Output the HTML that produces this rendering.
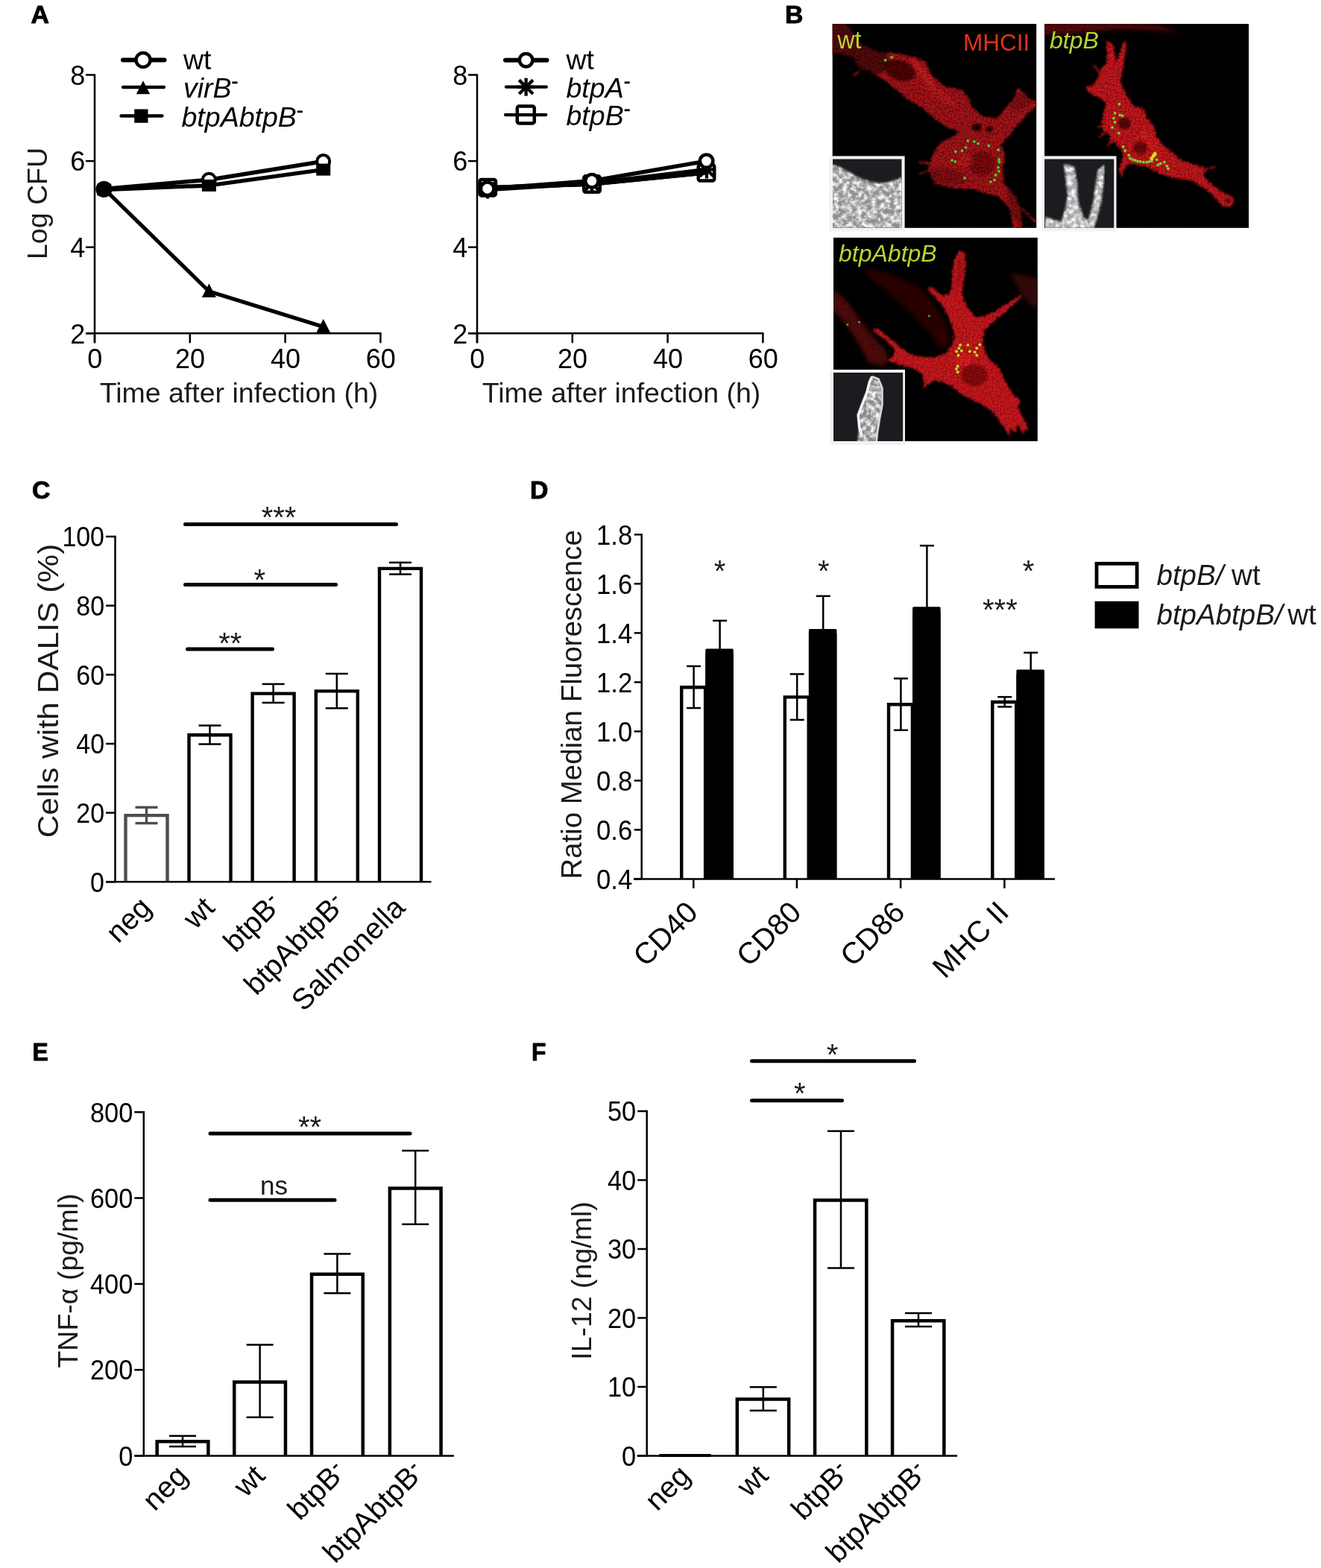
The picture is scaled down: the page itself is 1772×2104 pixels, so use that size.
<!DOCTYPE html>
<html lang="en">
<head>
<meta charset="utf-8">
<title>Figure</title>
<style>
html,body{margin:0;padding:0;background:#fff;}
body{width:1772px;height:2104px;overflow:hidden;position:relative;}
svg{display:block;position:absolute;left:0;top:0;}
svg text{font-family:"Liberation Sans", sans-serif;}
</style>
</head>
<body>
<svg width="1772" height="2104" viewBox="0 0 1772 2104">
<rect x="0" y="0" width="1772" height="2104" fill="#ffffff"/>
<defs>
<filter id="cellf" x="-10%" y="-10%" width="120%" height="120%" color-interpolation-filters="sRGB">
  <feTurbulence type="fractalNoise" baseFrequency="0.35" numOctaves="2" seed="7" result="n"/>
  <feDisplacementMap in="SourceGraphic" in2="n" scale="7" xChannelSelector="R" yChannelSelector="G" result="d"/>
  <feGaussianBlur in="d" stdDeviation="1.1" result="b"/>
  <feColorMatrix in="n" type="matrix" values="0 0 0 0 1  0 0 0 0 1  0 0 0 0 1  1.6 0 0 0 -0.05" result="na"/>
  <feComposite in="b" in2="na" operator="in" result="tex"/>
  <feMerge><feMergeNode in="b"/></feMerge>
</filter>
<filter id="grain" x="0" y="0" width="100%" height="100%" color-interpolation-filters="sRGB">
  <feTurbulence type="fractalNoise" baseFrequency="0.45" numOctaves="2" seed="3" result="n"/>
  <feColorMatrix in="n" type="matrix" values="0 0 0 0 0  0 0 0 0 0  0 0 0 0 0  0 2.2 0 0 -0.75" result="dark"/>
  <feComposite in="dark" in2="SourceGraphic" operator="in"/>
</filter>
<filter id="soft" x="-20%" y="-20%" width="140%" height="140%"><feGaussianBlur stdDeviation="3"/></filter>
<filter id="soft2" x="-20%" y="-20%" width="140%" height="140%"><feGaussianBlur stdDeviation="1.5"/></filter>
<filter id="dotf" x="-50%" y="-50%" width="200%" height="200%"><feGaussianBlur stdDeviation="0.6"/></filter>
<filter id="insf" x="0" y="0" width="100%" height="100%" color-interpolation-filters="sRGB">
  <feTurbulence type="fractalNoise" baseFrequency="0.16" numOctaves="3" seed="11" result="n"/>
  <feColorMatrix in="n" type="matrix" values="0 0 0 0 1  0 0 0 0 1  0 0 0 0 1  2.4 0 0 0 -0.85" result="w"/>
  <feComposite in="w" in2="SourceGraphic" operator="in" result="wc"/>
  <feMerge><feMergeNode in="SourceGraphic"/><feMergeNode in="wc"/></feMerge>
</filter>
</defs>
<text transform="translate(41.5 30.5) scale(1.04 1.0)" text-anchor="start" fill="#000" stroke="#000" stroke-width="0.9" stroke-linejoin="round" style="font-size:32.5px;font-weight:bold;">A</text>
<line x1="127" y1="99.5" x2="127" y2="460.3" stroke="#000" stroke-width="2.5" stroke-linecap="butt"/>
<line x1="115" y1="447.3" x2="511.5" y2="447.3" stroke="#000" stroke-width="2.5" stroke-linecap="butt"/>
<line x1="115" y1="100.5" x2="127" y2="100.5" stroke="#000" stroke-width="2.5" stroke-linecap="butt"/>
<text transform="translate(114.2 113.8) scale(0.96 1.0)" text-anchor="end" fill="#000" style="font-size:37.5px;">8</text>
<line x1="115" y1="216.10000000000002" x2="127" y2="216.10000000000002" stroke="#000" stroke-width="2.5" stroke-linecap="butt"/>
<text transform="translate(114.2 229.40000000000003) scale(0.96 1.0)" text-anchor="end" fill="#000" style="font-size:37.5px;">6</text>
<line x1="115" y1="331.70000000000005" x2="127" y2="331.70000000000005" stroke="#000" stroke-width="2.5" stroke-linecap="butt"/>
<text transform="translate(114.2 345.00000000000006) scale(0.96 1.0)" text-anchor="end" fill="#000" style="font-size:37.5px;">4</text>
<line x1="115" y1="447.3" x2="127" y2="447.3" stroke="#000" stroke-width="2.5" stroke-linecap="butt"/>
<text transform="translate(114.2 460.6) scale(0.96 1.0)" text-anchor="end" fill="#000" style="font-size:37.5px;">2</text>
<line x1="127.0" y1="447.3" x2="127.0" y2="460.3" stroke="#000" stroke-width="2.5" stroke-linecap="butt"/>
<text transform="translate(127.3 494.2) scale(0.96 1.0)" text-anchor="middle" fill="#000" style="font-size:37.5px;">0</text>
<line x1="254.8" y1="447.3" x2="254.8" y2="460.3" stroke="#000" stroke-width="2.5" stroke-linecap="butt"/>
<text transform="translate(255.10000000000002 494.2) scale(0.96 1.0)" text-anchor="middle" fill="#000" style="font-size:37.5px;">20</text>
<line x1="382.6" y1="447.3" x2="382.6" y2="460.3" stroke="#000" stroke-width="2.5" stroke-linecap="butt"/>
<text transform="translate(382.90000000000003 494.2) scale(0.96 1.0)" text-anchor="middle" fill="#000" style="font-size:37.5px;">40</text>
<line x1="510.4" y1="447.3" x2="510.4" y2="460.3" stroke="#000" stroke-width="2.5" stroke-linecap="butt"/>
<text transform="translate(510.7 494.2) scale(0.96 1.0)" text-anchor="middle" fill="#000" style="font-size:37.5px;">60</text>
<text transform="translate(320.5 540.2)" text-anchor="middle" fill="#1a1a1a" style="font-size:37.5px;">Time after infection (h)</text>
<line x1="640" y1="99.5" x2="640" y2="460.3" stroke="#000" stroke-width="2.5" stroke-linecap="butt"/>
<line x1="628" y1="447.3" x2="1024.5" y2="447.3" stroke="#000" stroke-width="2.5" stroke-linecap="butt"/>
<line x1="628" y1="100.5" x2="640" y2="100.5" stroke="#000" stroke-width="2.5" stroke-linecap="butt"/>
<text transform="translate(627.2 113.8) scale(0.96 1.0)" text-anchor="end" fill="#000" style="font-size:37.5px;">8</text>
<line x1="628" y1="216.10000000000002" x2="640" y2="216.10000000000002" stroke="#000" stroke-width="2.5" stroke-linecap="butt"/>
<text transform="translate(627.2 229.40000000000003) scale(0.96 1.0)" text-anchor="end" fill="#000" style="font-size:37.5px;">6</text>
<line x1="628" y1="331.70000000000005" x2="640" y2="331.70000000000005" stroke="#000" stroke-width="2.5" stroke-linecap="butt"/>
<text transform="translate(627.2 345.00000000000006) scale(0.96 1.0)" text-anchor="end" fill="#000" style="font-size:37.5px;">4</text>
<line x1="628" y1="447.3" x2="640" y2="447.3" stroke="#000" stroke-width="2.5" stroke-linecap="butt"/>
<text transform="translate(627.2 460.6) scale(0.96 1.0)" text-anchor="end" fill="#000" style="font-size:37.5px;">2</text>
<line x1="640.0" y1="447.3" x2="640.0" y2="460.3" stroke="#000" stroke-width="2.5" stroke-linecap="butt"/>
<text transform="translate(640.3 494.2) scale(0.96 1.0)" text-anchor="middle" fill="#000" style="font-size:37.5px;">0</text>
<line x1="767.8" y1="447.3" x2="767.8" y2="460.3" stroke="#000" stroke-width="2.5" stroke-linecap="butt"/>
<text transform="translate(768.0999999999999 494.2) scale(0.96 1.0)" text-anchor="middle" fill="#000" style="font-size:37.5px;">20</text>
<line x1="895.6" y1="447.3" x2="895.6" y2="460.3" stroke="#000" stroke-width="2.5" stroke-linecap="butt"/>
<text transform="translate(895.9 494.2) scale(0.96 1.0)" text-anchor="middle" fill="#000" style="font-size:37.5px;">40</text>
<line x1="1023.4" y1="447.3" x2="1023.4" y2="460.3" stroke="#000" stroke-width="2.5" stroke-linecap="butt"/>
<text transform="translate(1023.6999999999999 494.2) scale(0.96 1.0)" text-anchor="middle" fill="#000" style="font-size:37.5px;">60</text>
<text transform="translate(833.5 540.2)" text-anchor="middle" fill="#1a1a1a" style="font-size:37.5px;">Time after infection (h)</text>
<text transform="translate(62.5 273) rotate(-90)" text-anchor="middle" fill="#1a1a1a" style="font-size:37.5px;">Log CFU</text>
<polyline points="139.78,253.5 280.36,241.2 433.71999999999997,216.5" fill="none" stroke="#000" stroke-width="5.5" stroke-linejoin="round" stroke-linecap="round"/>
<circle cx="139.78" cy="253.5" r="8.5" fill="#fff" stroke="#000" stroke-width="4"/>
<circle cx="280.36" cy="241.2" r="8.5" fill="#fff" stroke="#000" stroke-width="4"/>
<circle cx="433.71999999999997" cy="216.5" r="8.5" fill="#fff" stroke="#000" stroke-width="4"/>
<polyline points="139.78,253.5 280.36,391 433.71999999999997,438.5" fill="none" stroke="#000" stroke-width="5.2" stroke-linejoin="round" stroke-linecap="round"/>
<polygon points="139.78,243.0 130.28,261.5 149.28,261.5" fill="#000"/>
<polygon points="280.36,380.5 270.86,399 289.86,399" fill="#000"/>
<polygon points="433.71999999999997,428.0 424.21999999999997,446.5 443.21999999999997,446.5" fill="#000"/>
<polyline points="139.78,254.5 280.36,248.9 433.71999999999997,227.6" fill="none" stroke="#000" stroke-width="5.5" stroke-linejoin="round" stroke-linecap="round"/>
<rect x="130.28" y="246.5" width="19" height="16" fill="#000" stroke="#000" stroke-width="0"/>
<rect x="270.86" y="240.9" width="19" height="16" fill="#000" stroke="#000" stroke-width="0"/>
<rect x="424.21999999999997" y="219.6" width="19" height="16" fill="#000" stroke="#000" stroke-width="0"/>
<circle cx="139.28" cy="254" r="11" fill="#000"/>
<line x1="165" y1="80.5" x2="220.5" y2="80.5" stroke="#000" stroke-width="6" stroke-linecap="round"/>
<circle cx="192" cy="80.5" r="9.5" fill="#fff" stroke="#000" stroke-width="4.5"/>
<text transform="translate(246 92.5)" text-anchor="start" fill="#000" style="font-size:37.5px;">wt</text>
<line x1="165" y1="117" x2="220" y2="117" stroke="#000" stroke-width="4.3" stroke-linecap="round"/>
<polygon points="192,108.3 182.8,126.2 201.2,126.2" fill="#000"/>
<text transform="translate(246 130.5)" text-anchor="start" fill="#000" style="font-size:37.5px;font-style:italic;">virB<tspan dx="0" dy="-12.6" font-size="27" font-style="normal" stroke="#000" stroke-width="0.5">-</tspan></text>
<line x1="162.5" y1="155.5" x2="217.5" y2="155.5" stroke="#000" stroke-width="4.3" stroke-linecap="round"/>
<rect x="180.2" y="146.5" width="18.3" height="18.3" fill="#000" stroke="#000" stroke-width="0"/>
<text transform="translate(243.5 170)" text-anchor="start" fill="#000" style="font-size:37.5px;font-style:italic;">btpAbtpB<tspan dx="0" dy="-12.6" font-size="27" font-style="normal" stroke="#000" stroke-width="0.5">-</tspan></text>
<polyline points="654.2,251.7 794,247.1 947.5,231.8" fill="none" stroke="#000" stroke-width="5.5" stroke-linejoin="round" stroke-linecap="round"/>
<rect x="643.45" y="240.95" width="21.5" height="21.5" fill="#fff" stroke="#000" stroke-width="4.5" rx="2.5"/>
<rect x="783.25" y="236.35" width="21.5" height="21.5" fill="#fff" stroke="#000" stroke-width="4.5" rx="2.5"/>
<rect x="936.75" y="221.05" width="21.5" height="21.5" fill="#fff" stroke="#000" stroke-width="4.5" rx="2.5"/>
<polyline points="654,254.5 794,246 948,227.5" fill="none" stroke="#000" stroke-width="5.5" stroke-linejoin="round" stroke-linecap="round"/>
<line x1="654.0" y1="242.5" x2="654.0" y2="266.5" stroke="#000" stroke-width="4.3" stroke-linecap="butt"/>
<line x1="644.67" y1="245.17" x2="663.33" y2="263.83" stroke="#000" stroke-width="4.3" stroke-linecap="butt"/>
<line x1="663.33" y1="245.17" x2="644.67" y2="263.83" stroke="#000" stroke-width="4.3" stroke-linecap="butt"/>
<line x1="642" y1="254.5" x2="666" y2="254.5" stroke="#000" stroke-width="4.3" stroke-linecap="butt"/>
<line x1="794.0" y1="234.0" x2="794.0" y2="258.0" stroke="#000" stroke-width="4.3" stroke-linecap="butt"/>
<line x1="784.67" y1="236.67" x2="803.33" y2="255.33" stroke="#000" stroke-width="4.3" stroke-linecap="butt"/>
<line x1="803.33" y1="236.67" x2="784.67" y2="255.33" stroke="#000" stroke-width="4.3" stroke-linecap="butt"/>
<line x1="782" y1="246" x2="806" y2="246" stroke="#000" stroke-width="4.3" stroke-linecap="butt"/>
<line x1="948.0" y1="215.5" x2="948.0" y2="239.5" stroke="#000" stroke-width="4.3" stroke-linecap="butt"/>
<line x1="938.67" y1="218.17" x2="957.33" y2="236.83" stroke="#000" stroke-width="4.3" stroke-linecap="butt"/>
<line x1="957.33" y1="218.17" x2="938.67" y2="236.83" stroke="#000" stroke-width="4.3" stroke-linecap="butt"/>
<line x1="936" y1="227.5" x2="960" y2="227.5" stroke="#000" stroke-width="4.3" stroke-linecap="butt"/>
<polyline points="654.2,251.7 794,247.1 947.5,231.8" fill="none" stroke="#000" stroke-width="5.5" stroke-linejoin="round" stroke-linecap="round"/>
<polyline points="653.7,253.3 793.9,242.7 947.6,216.1" fill="none" stroke="#000" stroke-width="5.5" stroke-linejoin="round" stroke-linecap="round"/>
<circle cx="653.7" cy="253.3" r="8.7" fill="#fff" stroke="#000" stroke-width="4.5"/>
<circle cx="793.9" cy="242.7" r="8.7" fill="#fff" stroke="#000" stroke-width="4.5"/>
<circle cx="947.6" cy="216.1" r="8.7" fill="#fff" stroke="#000" stroke-width="4.5"/>
<line x1="678" y1="80.7" x2="733.5" y2="80.7" stroke="#000" stroke-width="6" stroke-linecap="round"/>
<circle cx="705.6" cy="80.7" r="8.8" fill="#fff" stroke="#000" stroke-width="4.5"/>
<text transform="translate(759.5 93.2)" text-anchor="start" fill="#000" style="font-size:37.5px;">wt</text>
<line x1="679" y1="116.7" x2="732.8" y2="116.7" stroke="#000" stroke-width="4.3" stroke-linecap="round"/>
<line x1="705.6" y1="104.7" x2="705.6" y2="128.7" stroke="#000" stroke-width="4.3" stroke-linecap="butt"/>
<line x1="696.27" y1="107.37" x2="714.93" y2="126.03" stroke="#000" stroke-width="4.3" stroke-linecap="butt"/>
<line x1="714.93" y1="107.37" x2="696.27" y2="126.03" stroke="#000" stroke-width="4.3" stroke-linecap="butt"/>
<line x1="693.6" y1="116.7" x2="717.6" y2="116.7" stroke="#000" stroke-width="4.3" stroke-linecap="butt"/>
<text transform="translate(759.5 130.9)" text-anchor="start" fill="#000" style="font-size:37.5px;font-style:italic;">btpA<tspan dx="0" dy="-12.6" font-size="27" font-style="normal" stroke="#000" stroke-width="0.5">-</tspan></text>
<line x1="678" y1="154.1" x2="732.3" y2="154.1" stroke="#000" stroke-width="4.3" stroke-linecap="round"/>
<rect x="693.8" y="142.5" width="23.0" height="23.0" fill="none" stroke="#000" stroke-width="4.5" rx="2.5"/>
<text transform="translate(759.5 167.7)" text-anchor="start" fill="#000" style="font-size:37.5px;font-style:italic;">btpB<tspan dx="0" dy="-12.6" font-size="27" font-style="normal" stroke="#000" stroke-width="0.5">-</tspan></text>
<text transform="translate(43 668.5) scale(1.04 1.0)" text-anchor="start" fill="#000" stroke="#000" stroke-width="0.9" stroke-linejoin="round" style="font-size:32.5px;font-weight:bold;">C</text>
<path d="M168.5,1183.3 V1094.1565 H224.5 V1183.3" fill="#fff" stroke="#4d4d4d" stroke-width="4.4" stroke-linejoin="miter"/>
<line x1="196.5" y1="1083.3006" x2="196.5" y2="1104.6124" stroke="#4d4d4d" stroke-width="3.4" stroke-linecap="butt"/>
<line x1="181.5" y1="1083.3006" x2="211.5" y2="1083.3006" stroke="#4d4d4d" stroke-width="3.4" stroke-linecap="butt"/>
<line x1="181.5" y1="1104.6124" x2="211.5" y2="1104.6124" stroke="#4d4d4d" stroke-width="3.4" stroke-linecap="butt"/>
<path d="M253.5,1183.3 V986.2076 H309.5 V1183.3" fill="#fff" stroke="#000" stroke-width="4.4" stroke-linejoin="miter"/>
<line x1="281.5" y1="973.4984999999999" x2="281.5" y2="998.5167" stroke="#000" stroke-width="2.5" stroke-linecap="butt"/>
<line x1="266.5" y1="973.4984999999999" x2="296.5" y2="973.4984999999999" stroke="#000" stroke-width="2.5" stroke-linecap="butt"/>
<line x1="266.5" y1="998.5167" x2="296.5" y2="998.5167" stroke="#000" stroke-width="2.5" stroke-linecap="butt"/>
<path d="M338.6,1183.3 V930.6116000000001 H394.6 V1183.3" fill="#fff" stroke="#000" stroke-width="4.4" stroke-linejoin="miter"/>
<line x1="366.6" y1="917.9024999999999" x2="366.6" y2="942.9207" stroke="#000" stroke-width="2.5" stroke-linecap="butt"/>
<line x1="351.6" y1="917.9024999999999" x2="381.6" y2="917.9024999999999" stroke="#000" stroke-width="2.5" stroke-linecap="butt"/>
<line x1="351.6" y1="942.9207" x2="381.6" y2="942.9207" stroke="#000" stroke-width="2.5" stroke-linecap="butt"/>
<path d="M423.8,1183.3 V927.3685 H479.8 V1183.3" fill="#fff" stroke="#000" stroke-width="4.4" stroke-linejoin="miter"/>
<line x1="451.8" y1="904.0035" x2="451.8" y2="950.3335" stroke="#000" stroke-width="2.5" stroke-linecap="butt"/>
<line x1="436.8" y1="904.0035" x2="466.8" y2="904.0035" stroke="#000" stroke-width="2.5" stroke-linecap="butt"/>
<line x1="436.8" y1="950.3335" x2="466.8" y2="950.3335" stroke="#000" stroke-width="2.5" stroke-linecap="butt"/>
<path d="M509.0,1183.3 V762.897 H565.0 V1183.3" fill="#fff" stroke="#000" stroke-width="4.4" stroke-linejoin="miter"/>
<line x1="537" y1="754.8208999999999" x2="537" y2="770.5731000000001" stroke="#000" stroke-width="2.5" stroke-linecap="butt"/>
<line x1="522.0" y1="754.8208999999999" x2="552.0" y2="754.8208999999999" stroke="#000" stroke-width="2.5" stroke-linecap="butt"/>
<line x1="522.0" y1="770.5731000000001" x2="552.0" y2="770.5731000000001" stroke="#000" stroke-width="2.5" stroke-linecap="butt"/>
<line x1="154.5" y1="718.75" x2="154.5" y2="1183.3" stroke="#000" stroke-width="2.5" stroke-linecap="butt"/>
<line x1="142" y1="1183.3" x2="578.5" y2="1183.3" stroke="#000" stroke-width="2.5" stroke-linecap="butt"/>
<line x1="142.0" y1="1183.3" x2="154.5" y2="1183.3" stroke="#000" stroke-width="2.5" stroke-linecap="butt"/>
<text transform="translate(140.0 1196.6) scale(0.905 1.0)" text-anchor="end" fill="#000" style="font-size:37.5px;">0</text>
<line x1="142.0" y1="1090.6399999999999" x2="154.5" y2="1090.6399999999999" stroke="#000" stroke-width="2.5" stroke-linecap="butt"/>
<text transform="translate(140.0 1103.9399999999998) scale(0.905 1.0)" text-anchor="end" fill="#000" style="font-size:37.5px;">20</text>
<line x1="142.0" y1="997.98" x2="154.5" y2="997.98" stroke="#000" stroke-width="2.5" stroke-linecap="butt"/>
<text transform="translate(140.0 1011.28) scale(0.905 1.0)" text-anchor="end" fill="#000" style="font-size:37.5px;">40</text>
<line x1="142.0" y1="905.3199999999999" x2="154.5" y2="905.3199999999999" stroke="#000" stroke-width="2.5" stroke-linecap="butt"/>
<text transform="translate(140.0 918.6199999999999) scale(0.905 1.0)" text-anchor="end" fill="#000" style="font-size:37.5px;">60</text>
<line x1="142.0" y1="812.66" x2="154.5" y2="812.66" stroke="#000" stroke-width="2.5" stroke-linecap="butt"/>
<text transform="translate(140.0 825.9599999999999) scale(0.905 1.0)" text-anchor="end" fill="#000" style="font-size:37.5px;">80</text>
<line x1="142.0" y1="720.0" x2="154.5" y2="720.0" stroke="#000" stroke-width="2.5" stroke-linecap="butt"/>
<text transform="translate(140.0 733.3) scale(0.905 1.0)" text-anchor="end" fill="#000" style="font-size:37.5px;">100</text>
<text transform="translate(77.5 927) rotate(-90) scale(1.105 1.0)" text-anchor="middle" fill="#1a1a1a" style="font-size:38.5px;">Cells with DALIS (%)</text>
<text transform="translate(205.0 1220.3) rotate(-45)" text-anchor="end" fill="#000" style="font-size:39.5px;">neg</text>
<text transform="translate(290.0 1220.3) rotate(-45)" text-anchor="end" fill="#000" style="font-size:39.5px;">wt</text>
<text transform="translate(379.6 1215.8) rotate(-45)" text-anchor="end" fill="#000" style="font-size:39.5px;">btpB<tspan dx="0.5" dy="-12" font-size="25" stroke="#000" stroke-width="0.7">-</tspan></text>
<text transform="translate(464.8 1215.8) rotate(-45)" text-anchor="end" fill="#000" style="font-size:39.5px;">btpAbtpB<tspan dx="0.5" dy="-12" font-size="25" stroke="#000" stroke-width="0.7">-</tspan></text>
<text transform="translate(545.5 1220.3) rotate(-45)" text-anchor="end" fill="#000" style="font-size:39.5px;">Salmonella</text>
<line x1="248.5" y1="703.5" x2="531.5" y2="703.5" stroke="#000" stroke-width="5" stroke-linecap="round"/>
<line x1="248.5" y1="784.5" x2="450.5" y2="784.5" stroke="#000" stroke-width="5" stroke-linecap="round"/>
<line x1="251.5" y1="871" x2="365.5" y2="871" stroke="#000" stroke-width="5" stroke-linecap="round"/>
<text transform="translate(374 708)" text-anchor="middle" fill="#1a1a1a" style="font-size:40px;">***</text>
<text transform="translate(348.2 791.5)" text-anchor="middle" fill="#1a1a1a" style="font-size:40px;">*</text>
<text transform="translate(308.8 877)" text-anchor="middle" fill="#1a1a1a" style="font-size:40px;">**</text>
<text transform="translate(711 668.5) scale(1.04 1.0)" text-anchor="start" fill="#000" stroke="#000" stroke-width="0.9" stroke-linejoin="round" style="font-size:32.5px;font-weight:bold;">D</text>
<line x1="930.3" y1="1179.5" x2="930.3" y2="1192.0" stroke="#000" stroke-width="2.5" stroke-linecap="butt"/>
<path d="M914.2,1179.5 V922.1885714285714 H946.0999999999999 V1179.5" fill="#fff" stroke="#000" stroke-width="4.4" stroke-linejoin="miter"/>
<line x1="930.5999999999999" y1="893.9264285714286" x2="930.5999999999999" y2="950.0507142857143" stroke="#000" stroke-width="2.5" stroke-linecap="butt"/>
<line x1="921.0999999999999" y1="893.9264285714286" x2="940.0999999999999" y2="893.9264285714286" stroke="#000" stroke-width="2.5" stroke-linecap="butt"/>
<line x1="921.0999999999999" y1="950.0507142857143" x2="940.0999999999999" y2="950.0507142857143" stroke="#000" stroke-width="2.5" stroke-linecap="butt"/>
<line x1="965.5999999999999" y1="832.8499999999999" x2="965.5999999999999" y2="872.4671428571428" stroke="#000" stroke-width="2.5" stroke-linecap="butt"/>
<line x1="956.0999999999999" y1="832.8499999999999" x2="975.0999999999999" y2="832.8499999999999" stroke="#000" stroke-width="2.5" stroke-linecap="butt"/>
<rect x="946.3" y="870.4671428571428" width="37.5" height="309.0328571428572" fill="#000" stroke="#000" stroke-width="0" rx="1.5"/>
<rect x="946.3" y="876.4671428571428" width="37.5" height="303.0328571428572" fill="#000" stroke="#000" stroke-width="0"/>
<text transform="translate(938.3 1226.5) rotate(-45)" text-anchor="end" fill="#000" style="font-size:40px;">CD40</text>
<line x1="1068.9" y1="1179.5" x2="1068.9" y2="1192.0" stroke="#000" stroke-width="2.5" stroke-linecap="butt"/>
<path d="M1052.8000000000002,1179.5 V935.3942857142857 H1084.7 V1179.5" fill="#fff" stroke="#000" stroke-width="4.4" stroke-linejoin="miter"/>
<line x1="1069.2" y1="904.491" x2="1069.2" y2="965.8975714285714" stroke="#000" stroke-width="2.5" stroke-linecap="butt"/>
<line x1="1059.7" y1="904.491" x2="1078.7" y2="904.491" stroke="#000" stroke-width="2.5" stroke-linecap="butt"/>
<line x1="1059.7" y1="965.8975714285714" x2="1078.7" y2="965.8975714285714" stroke="#000" stroke-width="2.5" stroke-linecap="butt"/>
<line x1="1104.2" y1="799.8357142857143" x2="1104.2" y2="846.0557142857143" stroke="#000" stroke-width="2.5" stroke-linecap="butt"/>
<line x1="1094.7" y1="799.8357142857143" x2="1113.7" y2="799.8357142857143" stroke="#000" stroke-width="2.5" stroke-linecap="butt"/>
<rect x="1084.9" y="844.0557142857143" width="37.5" height="335.4442857142857" fill="#000" stroke="#000" stroke-width="0" rx="1.5"/>
<rect x="1084.9" y="850.0557142857143" width="37.5" height="329.4442857142857" fill="#000" stroke="#000" stroke-width="0"/>
<text transform="translate(1076.9 1226.5) rotate(-45)" text-anchor="end" fill="#000" style="font-size:40px;">CD80</text>
<line x1="1208.1" y1="1179.5" x2="1208.1" y2="1192.0" stroke="#000" stroke-width="2.5" stroke-linecap="butt"/>
<path d="M1192.0,1179.5 V945.2985714285714 H1223.8999999999999 V1179.5" fill="#fff" stroke="#000" stroke-width="4.4" stroke-linejoin="miter"/>
<line x1="1208.3999999999999" y1="910.4335714285714" x2="1208.3999999999999" y2="979.7635714285714" stroke="#000" stroke-width="2.5" stroke-linecap="butt"/>
<line x1="1198.8999999999999" y1="910.4335714285714" x2="1217.8999999999999" y2="910.4335714285714" stroke="#000" stroke-width="2.5" stroke-linecap="butt"/>
<line x1="1198.8999999999999" y1="979.7635714285714" x2="1217.8999999999999" y2="979.7635714285714" stroke="#000" stroke-width="2.5" stroke-linecap="butt"/>
<line x1="1243.3999999999999" y1="732.1564285714285" x2="1243.3999999999999" y2="816.342857142857" stroke="#000" stroke-width="2.5" stroke-linecap="butt"/>
<line x1="1233.8999999999999" y1="732.1564285714285" x2="1252.8999999999999" y2="732.1564285714285" stroke="#000" stroke-width="2.5" stroke-linecap="butt"/>
<rect x="1224.1" y="814.342857142857" width="37.5" height="365.15714285714296" fill="#000" stroke="#000" stroke-width="0" rx="1.5"/>
<rect x="1224.1" y="820.342857142857" width="37.5" height="359.15714285714296" fill="#000" stroke="#000" stroke-width="0"/>
<text transform="translate(1216.1 1226.5) rotate(-45)" text-anchor="end" fill="#000" style="font-size:40px;">CD86</text>
<line x1="1347.4" y1="1179.5" x2="1347.4" y2="1192.0" stroke="#000" stroke-width="2.5" stroke-linecap="butt"/>
<path d="M1331.3000000000002,1179.5 V941.9971428571429 H1363.2 V1179.5" fill="#fff" stroke="#000" stroke-width="4.4" stroke-linejoin="miter"/>
<line x1="1347.7" y1="935.1942857142857" x2="1347.7" y2="948.3999999999999" stroke="#000" stroke-width="2.5" stroke-linecap="butt"/>
<line x1="1338.2" y1="935.1942857142857" x2="1357.2" y2="935.1942857142857" stroke="#000" stroke-width="2.5" stroke-linecap="butt"/>
<line x1="1338.2" y1="948.3999999999999" x2="1357.2" y2="948.3999999999999" stroke="#000" stroke-width="2.5" stroke-linecap="butt"/>
<line x1="1382.7" y1="875.7685714285714" x2="1382.7" y2="900.5292857142856" stroke="#000" stroke-width="2.5" stroke-linecap="butt"/>
<line x1="1373.2" y1="875.7685714285714" x2="1392.2" y2="875.7685714285714" stroke="#000" stroke-width="2.5" stroke-linecap="butt"/>
<rect x="1363.4" y="898.5292857142856" width="37.5" height="280.9707142857144" fill="#000" stroke="#000" stroke-width="0" rx="1.5"/>
<rect x="1363.4" y="904.5292857142856" width="37.5" height="274.9707142857144" fill="#000" stroke="#000" stroke-width="0"/>
<text transform="translate(1355.4 1226.5) rotate(-45)" text-anchor="end" fill="#000" style="font-size:40px;">MHC II</text>
<line x1="860.7" y1="716.05" x2="860.7" y2="1179.5" stroke="#000" stroke-width="2.5" stroke-linecap="butt"/>
<line x1="850" y1="1179.5" x2="1415" y2="1179.5" stroke="#000" stroke-width="2.5" stroke-linecap="butt"/>
<line x1="850.7" y1="1179.5" x2="860.7" y2="1179.5" stroke="#000" stroke-width="2.5" stroke-linecap="butt"/>
<text transform="translate(848.2 1192.8) scale(0.925 1.0)" text-anchor="end" fill="#000" style="font-size:37.5px;">0.4</text>
<line x1="850.7" y1="1113.4714285714285" x2="860.7" y2="1113.4714285714285" stroke="#000" stroke-width="2.5" stroke-linecap="butt"/>
<text transform="translate(848.2 1126.7714285714285) scale(0.925 1.0)" text-anchor="end" fill="#000" style="font-size:37.5px;">0.6</text>
<line x1="850.7" y1="1047.442857142857" x2="860.7" y2="1047.442857142857" stroke="#000" stroke-width="2.5" stroke-linecap="butt"/>
<text transform="translate(848.2 1060.742857142857) scale(0.925 1.0)" text-anchor="end" fill="#000" style="font-size:37.5px;">0.8</text>
<line x1="850.7" y1="981.4142857142857" x2="860.7" y2="981.4142857142857" stroke="#000" stroke-width="2.5" stroke-linecap="butt"/>
<text transform="translate(848.2 994.7142857142857) scale(0.925 1.0)" text-anchor="end" fill="#000" style="font-size:37.5px;">1.0</text>
<line x1="850.7" y1="915.3857142857141" x2="860.7" y2="915.3857142857141" stroke="#000" stroke-width="2.5" stroke-linecap="butt"/>
<text transform="translate(848.2 928.6857142857141) scale(0.925 1.0)" text-anchor="end" fill="#000" style="font-size:37.5px;">1.2</text>
<line x1="850.7" y1="849.3571428571429" x2="860.7" y2="849.3571428571429" stroke="#000" stroke-width="2.5" stroke-linecap="butt"/>
<text transform="translate(848.2 862.6571428571428) scale(0.925 1.0)" text-anchor="end" fill="#000" style="font-size:37.5px;">1.4</text>
<line x1="850.7" y1="783.3285714285713" x2="860.7" y2="783.3285714285713" stroke="#000" stroke-width="2.5" stroke-linecap="butt"/>
<text transform="translate(848.2 796.6285714285713) scale(0.925 1.0)" text-anchor="end" fill="#000" style="font-size:37.5px;">1.6</text>
<line x1="850.7" y1="717.2999999999997" x2="860.7" y2="717.2999999999997" stroke="#000" stroke-width="2.5" stroke-linecap="butt"/>
<text transform="translate(848.2 730.5999999999997) scale(0.925 1.0)" text-anchor="end" fill="#000" style="font-size:37.5px;">1.8</text>
<text transform="translate(779.5 945.5) rotate(-90)" text-anchor="middle" fill="#1a1a1a" style="font-size:38.5px;">Ratio Median Fluorescence</text>
<text transform="translate(965.5 779.5)" text-anchor="middle" fill="#1a1a1a" style="font-size:40px;">*</text>
<text transform="translate(1104.8 779.5)" text-anchor="middle" fill="#1a1a1a" style="font-size:40px;">*</text>
<text transform="translate(1379.5 779.5)" text-anchor="middle" fill="#1a1a1a" style="font-size:40px;">*</text>
<text transform="translate(1341.4 832)" text-anchor="middle" fill="#1a1a1a" style="font-size:40px;">***</text>
<rect x="1471" y="756.3" width="54.1" height="31.1" fill="#fff" stroke="#000" stroke-width="4.8"/>
<rect x="1468.6" y="806.8" width="58.9" height="36.5" fill="#000" stroke="#000" stroke-width="0"/>
<text transform="translate(1551.5 784.8)" text-anchor="start" fill="#1a1a1a" style="font-size:38.5px;"><tspan font-style="italic">btpB/</tspan> wt</text>
<text transform="translate(1551.5 837.9)" text-anchor="start" fill="#1a1a1a" style="font-size:38.5px;"><tspan font-style="italic">btpAbtpB/</tspan><tspan dx="-4"> wt</tspan></text>
<text transform="translate(43.5 1422.7) scale(0.98 1.0)" text-anchor="start" fill="#000" stroke="#000" stroke-width="0.9" stroke-linejoin="round" style="font-size:32.5px;font-weight:bold;">E</text>
<path d="M210.65,1953.4 V1934.35 H279.35 V1953.4" fill="#fff" stroke="#000" stroke-width="4.5" stroke-linejoin="miter"/>
<line x1="245" y1="1926.8" x2="245" y2="1941.1" stroke="#000" stroke-width="2.5" stroke-linecap="butt"/>
<line x1="227.0" y1="1926.8" x2="263.0" y2="1926.8" stroke="#000" stroke-width="2.5" stroke-linecap="butt"/>
<line x1="227.0" y1="1941.1" x2="263.0" y2="1941.1" stroke="#000" stroke-width="2.5" stroke-linecap="butt"/>
<text transform="translate(254 1982.4) rotate(-45)" text-anchor="end" fill="#000" style="font-size:39.5px;">neg</text>
<path d="M314.25,1953.4 V1854.45 H382.95000000000005 V1953.4" fill="#fff" stroke="#000" stroke-width="4.5" stroke-linejoin="miter"/>
<line x1="348.6" y1="1804.6" x2="348.6" y2="1901.8" stroke="#000" stroke-width="2.5" stroke-linecap="butt"/>
<line x1="330.6" y1="1804.6" x2="366.6" y2="1804.6" stroke="#000" stroke-width="2.5" stroke-linecap="butt"/>
<line x1="330.6" y1="1901.8" x2="366.6" y2="1901.8" stroke="#000" stroke-width="2.5" stroke-linecap="butt"/>
<text transform="translate(357.6 1982.4) rotate(-45)" text-anchor="end" fill="#000" style="font-size:39.5px;">wt</text>
<path d="M418.04999999999995,1953.4 V1709.65 H486.75 V1953.4" fill="#fff" stroke="#000" stroke-width="4.5" stroke-linejoin="miter"/>
<line x1="452.4" y1="1682.4" x2="452.4" y2="1735.2" stroke="#000" stroke-width="2.5" stroke-linecap="butt"/>
<line x1="434.4" y1="1682.4" x2="470.4" y2="1682.4" stroke="#000" stroke-width="2.5" stroke-linecap="butt"/>
<line x1="434.4" y1="1735.2" x2="470.4" y2="1735.2" stroke="#000" stroke-width="2.5" stroke-linecap="butt"/>
<text transform="translate(465.9 1977.9) rotate(-45)" text-anchor="end" fill="#000" style="font-size:39.5px;">btpB<tspan dx="0.5" dy="-12" font-size="25" stroke="#000" stroke-width="0.7">-</tspan></text>
<path d="M522.85,1953.4 V1594.55 H591.5500000000001 V1953.4" fill="#fff" stroke="#000" stroke-width="4.5" stroke-linejoin="miter"/>
<line x1="557.2" y1="1543.9" x2="557.2" y2="1642.7" stroke="#000" stroke-width="2.5" stroke-linecap="butt"/>
<line x1="539.2" y1="1543.9" x2="575.2" y2="1543.9" stroke="#000" stroke-width="2.5" stroke-linecap="butt"/>
<line x1="539.2" y1="1642.7" x2="575.2" y2="1642.7" stroke="#000" stroke-width="2.5" stroke-linecap="butt"/>
<text transform="translate(570.7 1977.9) rotate(-45)" text-anchor="end" fill="#000" style="font-size:39.5px;">btpAbtpB<tspan dx="0.5" dy="-12" font-size="25" stroke="#000" stroke-width="0.7">-</tspan></text>
<line x1="192.8" y1="1491.05" x2="192.8" y2="1953.4" stroke="#000" stroke-width="2.5" stroke-linecap="butt"/>
<line x1="180.6" y1="1953.4" x2="609" y2="1953.4" stroke="#000" stroke-width="2.5" stroke-linecap="butt"/>
<line x1="180.3" y1="1953.4" x2="192.8" y2="1953.4" stroke="#000" stroke-width="2.5" stroke-linecap="butt"/>
<text transform="translate(178.3 1966.7) scale(0.917 1.0)" text-anchor="end" fill="#000" style="font-size:37.5px;">0</text>
<line x1="180.3" y1="1838.125" x2="192.8" y2="1838.125" stroke="#000" stroke-width="2.5" stroke-linecap="butt"/>
<text transform="translate(178.3 1851.425) scale(0.917 1.0)" text-anchor="end" fill="#000" style="font-size:37.5px;">200</text>
<line x1="180.3" y1="1722.85" x2="192.8" y2="1722.85" stroke="#000" stroke-width="2.5" stroke-linecap="butt"/>
<text transform="translate(178.3 1736.1499999999999) scale(0.917 1.0)" text-anchor="end" fill="#000" style="font-size:37.5px;">400</text>
<line x1="180.3" y1="1607.575" x2="192.8" y2="1607.575" stroke="#000" stroke-width="2.5" stroke-linecap="butt"/>
<text transform="translate(178.3 1620.875) scale(0.917 1.0)" text-anchor="end" fill="#000" style="font-size:37.5px;">600</text>
<line x1="180.3" y1="1492.3" x2="192.8" y2="1492.3" stroke="#000" stroke-width="2.5" stroke-linecap="butt"/>
<text transform="translate(178.3 1505.6) scale(0.917 1.0)" text-anchor="end" fill="#000" style="font-size:37.5px;">800</text>
<text transform="translate(104 1718.5) rotate(-90)" text-anchor="middle" fill="#1a1a1a" style="font-size:37.5px;">TNF-α (pg/ml)</text>
<line x1="282" y1="1521" x2="550" y2="1521" stroke="#000" stroke-width="5" stroke-linecap="round"/>
<line x1="282" y1="1610.3" x2="449" y2="1610.3" stroke="#000" stroke-width="5" stroke-linecap="round"/>
<text transform="translate(415.5 1526)" text-anchor="middle" fill="#1a1a1a" style="font-size:40px;">**</text>
<text transform="translate(367.5 1603)" text-anchor="middle" fill="#1a1a1a" style="font-size:35px;">ns</text>
<text transform="translate(713 1422.7) scale(0.98 1.0)" text-anchor="start" fill="#000" stroke="#000" stroke-width="0.9" stroke-linejoin="round" style="font-size:32.5px;font-weight:bold;">F</text>
<line x1="884.4" y1="1952.9" x2="953.8" y2="1952.9" stroke="#000" stroke-width="4" stroke-linecap="butt"/>
<text transform="translate(928 1982.4) rotate(-45)" text-anchor="end" fill="#000" style="font-size:39.5px;">neg</text>
<path d="M988.85,1953.4 V1877.45 H1058.15 V1953.4" fill="#fff" stroke="#000" stroke-width="4.5" stroke-linejoin="miter"/>
<line x1="1023.8000000000001" y1="1861.3" x2="1023.8000000000001" y2="1892.7" stroke="#000" stroke-width="2.5" stroke-linecap="butt"/>
<line x1="1005.8000000000001" y1="1861.3" x2="1041.8000000000002" y2="1861.3" stroke="#000" stroke-width="2.5" stroke-linecap="butt"/>
<line x1="1005.8000000000001" y1="1892.7" x2="1041.8000000000002" y2="1892.7" stroke="#000" stroke-width="2.5" stroke-linecap="butt"/>
<text transform="translate(1032.8 1982.4) rotate(-45)" text-anchor="end" fill="#000" style="font-size:39.5px;">wt</text>
<path d="M1093.0500000000002,1953.4 V1610.45 H1162.3500000000001 V1953.4" fill="#fff" stroke="#000" stroke-width="4.5" stroke-linejoin="miter"/>
<line x1="1128.0" y1="1517.7" x2="1128.0" y2="1701.4" stroke="#000" stroke-width="2.5" stroke-linecap="butt"/>
<line x1="1110.0" y1="1517.7" x2="1146.0" y2="1517.7" stroke="#000" stroke-width="2.5" stroke-linecap="butt"/>
<line x1="1110.0" y1="1701.4" x2="1146.0" y2="1701.4" stroke="#000" stroke-width="2.5" stroke-linecap="butt"/>
<text transform="translate(1141.5 1977.9) rotate(-45)" text-anchor="end" fill="#000" style="font-size:39.5px;">btpB<tspan dx="0.5" dy="-12" font-size="25" stroke="#000" stroke-width="0.7">-</tspan></text>
<path d="M1197.0500000000002,1953.4 V1772.25 H1266.3500000000001 V1953.4" fill="#fff" stroke="#000" stroke-width="4.5" stroke-linejoin="miter"/>
<line x1="1232.0" y1="1762.1" x2="1232.0" y2="1780" stroke="#000" stroke-width="2.5" stroke-linecap="butt"/>
<line x1="1214.0" y1="1762.1" x2="1250.0" y2="1762.1" stroke="#000" stroke-width="2.5" stroke-linecap="butt"/>
<line x1="1214.0" y1="1780" x2="1250.0" y2="1780" stroke="#000" stroke-width="2.5" stroke-linecap="butt"/>
<text transform="translate(1245.5 1977.9) rotate(-45)" text-anchor="end" fill="#000" style="font-size:39.5px;">btpAbtpB<tspan dx="0.5" dy="-12" font-size="25" stroke="#000" stroke-width="0.7">-</tspan></text>
<line x1="867.7" y1="1489.75" x2="867.7" y2="1953.4" stroke="#000" stroke-width="2.5" stroke-linecap="butt"/>
<line x1="854.6" y1="1953.4" x2="1284" y2="1953.4" stroke="#000" stroke-width="2.5" stroke-linecap="butt"/>
<line x1="855.2" y1="1953.4" x2="867.7" y2="1953.4" stroke="#000" stroke-width="2.5" stroke-linecap="butt"/>
<text transform="translate(853.2 1966.7) scale(0.917 1.0)" text-anchor="end" fill="#000" style="font-size:37.5px;">0</text>
<line x1="855.2" y1="1860.92" x2="867.7" y2="1860.92" stroke="#000" stroke-width="2.5" stroke-linecap="butt"/>
<text transform="translate(853.2 1874.22) scale(0.917 1.0)" text-anchor="end" fill="#000" style="font-size:37.5px;">10</text>
<line x1="855.2" y1="1768.44" x2="867.7" y2="1768.44" stroke="#000" stroke-width="2.5" stroke-linecap="butt"/>
<text transform="translate(853.2 1781.74) scale(0.917 1.0)" text-anchor="end" fill="#000" style="font-size:37.5px;">20</text>
<line x1="855.2" y1="1675.96" x2="867.7" y2="1675.96" stroke="#000" stroke-width="2.5" stroke-linecap="butt"/>
<text transform="translate(853.2 1689.26) scale(0.917 1.0)" text-anchor="end" fill="#000" style="font-size:37.5px;">30</text>
<line x1="855.2" y1="1583.48" x2="867.7" y2="1583.48" stroke="#000" stroke-width="2.5" stroke-linecap="butt"/>
<text transform="translate(853.2 1596.78) scale(0.917 1.0)" text-anchor="end" fill="#000" style="font-size:37.5px;">40</text>
<line x1="855.2" y1="1491.0" x2="867.7" y2="1491.0" stroke="#000" stroke-width="2.5" stroke-linecap="butt"/>
<text transform="translate(853.2 1504.3) scale(0.917 1.0)" text-anchor="end" fill="#000" style="font-size:37.5px;">50</text>
<text transform="translate(793 1718.5) rotate(-90)" text-anchor="middle" fill="#1a1a1a" style="font-size:37.5px;">IL-12 (ng/ml)</text>
<line x1="1008.5" y1="1423.7" x2="1226.5" y2="1423.7" stroke="#000" stroke-width="5" stroke-linecap="round"/>
<line x1="1008.5" y1="1476.8" x2="1129.5" y2="1476.8" stroke="#000" stroke-width="5" stroke-linecap="round"/>
<text transform="translate(1116.5 1429)" text-anchor="middle" fill="#1a1a1a" style="font-size:40px;">*</text>
<text transform="translate(1072.9 1481)" text-anchor="middle" fill="#1a1a1a" style="font-size:40px;">*</text>
<text transform="translate(1053 30.5) scale(1.04 1.0)" text-anchor="start" fill="#000" stroke="#000" stroke-width="0.9" stroke-linejoin="round" style="font-size:32.5px;font-weight:bold;">B</text>
<clipPath id="c1"><rect x="1116.7" y="32.1" width="273.5" height="273.7"/></clipPath>
<rect x="1116.7" y="32.1" width="273.5" height="273.7" fill="#000" stroke="#000" stroke-width="0"/>
<g clip-path="url(#c1)">
<g filter="url(#cellf)"><polygon points="1116.7,30.4 1134.1,32.1 1156.2,59.9 1181.7,70.3 1205.5,72.0 1229.4,77.2 1243.0,84.1 1249.8,101.5 1270.2,117.1 1290.6,120.6 1299.1,131.0 1304.2,144.8 1321.3,157.0 1336.6,158.7 1346.8,148.3 1360.4,131.0 1365.5,117.1 1372.3,124.0 1379.1,131.0 1392.7,136.2 1392.7,141.4 1379.1,151.8 1365.5,167.4 1353.6,181.3 1343.4,193.4 1348.5,210.8 1345.1,228.1 1346.8,245.5 1362.1,262.8 1368.9,280.1 1372.3,314.8 1360.4,314.8 1355.3,280.1 1338.3,262.8 1321.3,259.3 1304.2,254.1 1278.7,252.4 1253.2,245.5 1244.7,228.1 1248.1,216.0 1253.2,202.1 1263.4,189.9 1278.7,183.0 1287.2,176.1 1270.2,170.9 1253.2,158.7 1236.2,144.8 1219.2,134.4 1202.1,120.6 1185.1,106.7 1168.1,96.3 1151.1,89.3 1144.3,77.2 1125.5,72.0 1115.3,72.0" fill="#b2141a"/>
<line x1="1232.8" y1="217.7" x2="1249.8" y2="219.4" stroke="#b2141a" stroke-width="2.5" stroke-linecap="round"/>
<line x1="1234.5" y1="233.3" x2="1248.1" y2="228.1" stroke="#b2141a" stroke-width="2.5" stroke-linecap="round"/>
<line x1="1144.3" y1="101.5" x2="1156.2" y2="92.8" stroke="#b2141a" stroke-width="2.5" stroke-linecap="round"/>
<line x1="1389.3" y1="297.5" x2="1370.6" y2="280.1" stroke="#b2141a" stroke-width="2.5" stroke-linecap="round"/>
</g>
<ellipse cx="1142.6" cy="59.9" rx="56.1" ry="28.9" transform="rotate(35 1142.6 59.9)" fill="#000" opacity="0.5" filter="url(#soft2)"/>
<ellipse cx="1207.2" cy="94.5" rx="21.3" ry="13.3" transform="rotate(18 1207.2 94.5)" fill="#3a0404" opacity="0.8" filter="url(#soft2)"/>
<ellipse cx="1317.0" cy="219.4" rx="17.9" ry="16.2" transform="rotate(0 1317.0 219.4)" fill="#5a0606" opacity="0.5" filter="url(#soft2)"/>
<ellipse cx="1310.2" cy="170.9" rx="6.8" ry="5.1" transform="rotate(0 1310.2 170.9)" fill="#000" opacity="0.8" filter="url(#soft2)"/>
<ellipse cx="1327.2" cy="173.5" rx="4.8" ry="4.3" transform="rotate(0 1327.2 173.5)" fill="#000" opacity="0.7" filter="url(#soft2)"/>
<ellipse cx="1237.9" cy="98.0" rx="25.5" ry="4.8" transform="rotate(50 1237.9 98.0)" fill="#ff2626" opacity="0.55" filter="url(#soft2)"/>
<ellipse cx="1261.7" cy="127.5" rx="25.5" ry="5.1" transform="rotate(35 1261.7 127.5)" fill="#ff2a2a" opacity="0.3" filter="url(#soft2)"/>
<ellipse cx="1295.7" cy="216.0" rx="10.2" ry="8.5" transform="rotate(0 1295.7 216.0)" fill="#ff2a2a" opacity="0.3" filter="url(#soft2)"/>
<ellipse cx="1270.2" cy="236.8" rx="27.2" ry="10.2" transform="rotate(10 1270.2 236.8)" fill="#000" opacity="0.22" filter="url(#soft2)"/>
<ellipse cx="1365.5" cy="271.5" rx="11.9" ry="34.0" transform="rotate(-15 1365.5 271.5)" fill="#000" opacity="0.25" filter="url(#soft2)"/>
<ellipse cx="1372.3" cy="134.4" rx="20.4" ry="10.2" transform="rotate(-30 1372.3 134.4)" fill="#000" opacity="0.2" filter="url(#soft2)"/>
<rect x="1116.7" y="32.1" width="273.5" height="273.7" fill="#000" filter="url(#grain)" opacity="0.55"/>
<circle cx="1187.7" cy="80.7" r="1.9" fill="#3fd12e" filter="url(#dotf)"/>
<circle cx="1196.2" cy="76.9" r="1.9" fill="#3fd12e" filter="url(#dotf)"/>
<circle cx="1298.3" cy="189.1" r="1.9" fill="#3fd12e" filter="url(#dotf)"/>
<circle cx="1306.8" cy="189.9" r="1.9" fill="#3fd12e" filter="url(#dotf)"/>
<circle cx="1311.9" cy="192.6" r="1.9" fill="#3fd12e" filter="url(#dotf)"/>
<circle cx="1326.4" cy="195.5" r="1.9" fill="#3fd12e" filter="url(#dotf)"/>
<circle cx="1295.7" cy="197.8" r="1.9" fill="#3fd12e" filter="url(#dotf)"/>
<circle cx="1290.6" cy="202.4" r="1.9" fill="#3fd12e" filter="url(#dotf)"/>
<circle cx="1281.8" cy="203.5" r="1.9" fill="#3fd12e" filter="url(#dotf)"/>
<circle cx="1277.0" cy="215.1" r="1.9" fill="#3fd12e" filter="url(#dotf)"/>
<circle cx="1281.3" cy="216.8" r="1.9" fill="#3fd12e" filter="url(#dotf)"/>
<circle cx="1339.1" cy="201.2" r="1.9" fill="#3fd12e" filter="url(#dotf)"/>
<circle cx="1340.0" cy="214.2" r="1.9" fill="#3fd12e" filter="url(#dotf)"/>
<circle cx="1340.3" cy="217.7" r="1.9" fill="#3fd12e" filter="url(#dotf)"/>
<circle cx="1339.1" cy="224.6" r="1.9" fill="#3fd12e" filter="url(#dotf)"/>
<circle cx="1340.0" cy="229.8" r="1.9" fill="#3fd12e" filter="url(#dotf)"/>
<circle cx="1335.7" cy="235.0" r="1.9" fill="#3fd12e" filter="url(#dotf)"/>
<circle cx="1294.0" cy="238.9" r="1.9" fill="#3fd12e" filter="url(#dotf)"/>
<circle cx="1328.9" cy="244.1" r="1.9" fill="#3fd12e" filter="url(#dotf)"/>
<circle cx="1334.0" cy="241.6" r="1.9" fill="#3fd12e" filter="url(#dotf)"/>
</g>
<text transform="translate(1123.2 65.2) scale(0.96 1.0)" text-anchor="start" fill="#b9d432" style="font-size:33.5px;">wt</text>
<text transform="translate(1292 67.5)" text-anchor="start" fill="#e2301f" style="font-size:31.5px;">MHCII</text>
<clipPath id="c2"><rect x="1401.1" y="32.1" width="274.0" height="273.7"/></clipPath>
<rect x="1401.1" y="32.1" width="274.0" height="273.7" fill="#000" stroke="#000" stroke-width="0"/>
<g clip-path="url(#c2)">
<polygon points="1398.5,30.4 1487.0,30.4 1555.1,33.8 1585.7,46.0 1555.1,40.8 1504.1,39.0 1461.5,42.5 1427.5,46.0 1398.5,46.0" fill="#7a0c0c" opacity="0.8" filter="url(#soft)"/>
<g filter="url(#cellf)"><polygon points="1483.6,54.6 1493.9,59.9 1497.3,84.1 1504.1,65.1 1507.5,54.6 1510.9,61.6 1507.5,85.9 1504.1,101.5 1504.1,113.6 1510.9,127.5 1521.1,141.4 1534.7,146.6 1538.1,157.0 1548.3,170.9 1551.7,183.0 1558.5,193.4 1572.1,203.8 1582.3,214.2 1599.4,219.4 1619.8,226.4 1613.0,235.0 1623.2,245.5 1636.8,255.9 1653.8,264.5 1655.5,271.5 1650.4,278.4 1640.2,276.7 1626.6,262.8 1614.7,252.4 1597.7,242.0 1572.1,238.5 1555.1,233.3 1546.6,228.1 1538.1,224.6 1524.5,221.2 1514.3,219.4 1507.5,228.1 1504.1,240.3 1501.5,228.1 1504.1,216.0 1507.5,207.3 1500.7,196.9 1493.9,189.9 1485.3,195.2 1490.4,183.0 1480.2,176.1 1476.8,165.7 1480.2,151.8 1483.6,137.9 1473.4,131.0 1459.8,124.0 1456.4,117.1 1466.6,113.6 1473.4,103.2 1476.8,92.8 1483.6,85.9 1485.3,72.0" fill="#d2181e"/>
<line x1="1466.6" y1="87.6" x2="1476.8" y2="99.7" stroke="#b2141a" stroke-width="2.5" stroke-linecap="round"/>
<line x1="1473.4" y1="170.9" x2="1483.6" y2="165.7" stroke="#b2141a" stroke-width="2.5" stroke-linecap="round"/>
<line x1="1475.1" y1="183.0" x2="1487.0" y2="176.1" stroke="#b2141a" stroke-width="2.5" stroke-linecap="round"/>
<line x1="1630.0" y1="222.9" x2="1613.0" y2="229.8" stroke="#b2141a" stroke-width="2.5" stroke-linecap="round"/>
<line x1="1487.0" y1="195.2" x2="1495.6" y2="186.5" stroke="#b2141a" stroke-width="2.5" stroke-linecap="round"/>
</g>
<ellipse cx="1508.3" cy="165.7" rx="8.5" ry="7.7" transform="rotate(0 1508.3 165.7)" fill="#3a0404" opacity="0.75" filter="url(#soft2)"/>
<ellipse cx="1529.6" cy="198.6" rx="9.4" ry="8.5" transform="rotate(0 1529.6 198.6)" fill="#4a0505" opacity="0.65" filter="url(#soft2)"/>
<ellipse cx="1543.2" cy="189.9" rx="20.4" ry="6.0" transform="rotate(50 1543.2 189.9)" fill="#ff2a2a" opacity="0.35" filter="url(#soft2)"/>
<ellipse cx="1647.0" cy="269.7" rx="3.1" ry="2.4" transform="rotate(0 1647.0 269.7)" fill="#000" opacity="0.8" filter="url(#soft2)"/>
<rect x="1401.1" y="32.1" width="274.0" height="273.7" fill="#000" filter="url(#grain)" opacity="0.5"/>
<circle cx="1501.5" cy="139.6" r="1.9" fill="#6fd62c" filter="url(#dotf)"/>
<circle cx="1495.6" cy="151.8" r="1.9" fill="#6fd62c" filter="url(#dotf)"/>
<circle cx="1502.4" cy="154.4" r="1.9" fill="#6fd62c" filter="url(#dotf)"/>
<circle cx="1505.8" cy="155.3" r="1.9" fill="#6fd62c" filter="url(#dotf)"/>
<circle cx="1493.9" cy="158.7" r="1.9" fill="#6fd62c" filter="url(#dotf)"/>
<circle cx="1495.6" cy="163.9" r="1.9" fill="#6fd62c" filter="url(#dotf)"/>
<circle cx="1492.1" cy="170.9" r="1.9" fill="#6fd62c" filter="url(#dotf)"/>
<circle cx="1500.7" cy="178.7" r="1.9" fill="#6fd62c" filter="url(#dotf)"/>
<circle cx="1506.6" cy="196.9" r="1.9" fill="#6fd62c" filter="url(#dotf)"/>
<circle cx="1509.2" cy="202.1" r="1.9" fill="#6fd62c" filter="url(#dotf)"/>
<circle cx="1514.3" cy="208.2" r="1.9" fill="#6fd62c" filter="url(#dotf)"/>
<circle cx="1516.0" cy="212.5" r="1.9" fill="#6fd62c" filter="url(#dotf)"/>
<circle cx="1519.4" cy="214.2" r="1.9" fill="#6fd62c" filter="url(#dotf)"/>
<circle cx="1522.8" cy="215.1" r="1.9" fill="#6fd62c" filter="url(#dotf)"/>
<circle cx="1526.2" cy="216.3" r="1.9" fill="#6fd62c" filter="url(#dotf)"/>
<circle cx="1529.6" cy="216.8" r="1.9" fill="#6fd62c" filter="url(#dotf)"/>
<circle cx="1533.8" cy="217.7" r="1.9" fill="#6fd62c" filter="url(#dotf)"/>
<circle cx="1538.1" cy="217.7" r="1.9" fill="#6fd62c" filter="url(#dotf)"/>
<circle cx="1541.5" cy="216.8" r="1.9" fill="#6fd62c" filter="url(#dotf)"/>
<circle cx="1544.9" cy="216.0" r="1.9" fill="#6fd62c" filter="url(#dotf)"/>
<circle cx="1551.7" cy="214.2" r="1.9" fill="#6fd62c" filter="url(#dotf)"/>
<circle cx="1556.8" cy="219.4" r="1.9" fill="#6fd62c" filter="url(#dotf)"/>
<circle cx="1561.9" cy="217.7" r="1.9" fill="#6fd62c" filter="url(#dotf)"/>
<circle cx="1565.3" cy="222.9" r="1.9" fill="#6fd62c" filter="url(#dotf)"/>
<circle cx="1567.0" cy="226.4" r="1.9" fill="#6fd62c" filter="url(#dotf)"/>
<circle cx="1553.4" cy="221.2" r="1.9" fill="#6fd62c" filter="url(#dotf)"/>
<circle cx="1547.5" cy="209.0" r="2.6" fill="#d8d81e" filter="url(#dotf)"/>
<circle cx="1544.9" cy="212.5" r="2.6" fill="#d8d81e" filter="url(#dotf)"/>
<circle cx="1549.2" cy="206.4" r="2.6" fill="#d8d81e" filter="url(#dotf)"/>
</g>
<text transform="translate(1408 65)" text-anchor="start" fill="#b9d432" style="font-size:32px;font-style:italic;">btpB</text>
<clipPath id="c3"><rect x="1118" y="318.9" width="273.79999999999995" height="273.1"/></clipPath>
<rect x="1118" y="318.9" width="273.79999999999995" height="273.1" fill="#000" stroke="#000" stroke-width="0"/>
<g clip-path="url(#c3)">
<polygon points="1156.3,356.6 1202.2,370.4 1236.2,387.7 1253.2,408.4 1270.2,434.4 1277.0,460.3 1261.7,470.7 1244.7,443.0 1219.2,417.1 1193.7,394.6 1171.6,377.3" fill="#3c0606" opacity="0.8" filter="url(#soft)"/>
<polygon points="1116.3,387.7 1134.2,401.5 1151.2,425.7 1171.6,451.7 1188.6,470.7 1192.0,486.2 1181.8,491.4 1164.8,486.2 1151.2,460.3 1134.2,434.4 1116.3,415.4" fill="#650c0c" opacity="0.85" filter="url(#soft)"/>
<polygon points="1355.2,365.2 1394.4,373.9 1394.4,415.4 1380.8,408.4 1365.4,387.7" fill="#480707" opacity="0.8" filter="url(#soft)"/>
<g filter="url(#cellf)"><polygon points="1287.2,335.8 1294.0,339.3 1295.7,356.6 1292.3,377.3 1290.6,394.6 1297.4,411.9 1309.3,425.7 1321.2,424.0 1338.2,415.4 1355.2,405.0 1370.6,394.6 1367.1,401.5 1351.8,415.4 1334.8,429.2 1321.2,443.0 1317.8,456.8 1321.2,470.7 1326.3,481.0 1338.2,491.4 1345.0,503.5 1351.8,517.3 1358.6,529.4 1368.9,536.4 1365.4,546.7 1372.3,560.6 1379.1,574.4 1372.3,581.3 1365.4,570.9 1362.0,581.3 1355.2,574.4 1353.5,584.8 1346.7,574.4 1338.2,560.6 1328.0,550.2 1317.8,543.3 1304.2,536.4 1290.6,529.4 1277.0,519.1 1263.4,512.2 1253.2,510.4 1244.7,515.6 1237.9,522.5 1239.6,512.2 1236.2,501.8 1226.0,494.9 1215.8,491.4 1202.2,488.0 1190.3,484.5 1198.8,477.6 1200.5,468.9 1192.0,460.3 1181.8,451.7 1171.6,444.7 1173.3,439.6 1181.8,444.7 1195.4,455.1 1209.0,467.2 1222.6,475.9 1239.6,479.3 1256.6,479.3 1268.5,474.1 1277.0,463.8 1280.4,449.9 1277.0,436.1 1270.2,422.3 1263.4,408.4 1253.2,398.1 1246.4,391.2 1244.7,384.2 1253.2,387.7 1263.4,396.3 1273.6,394.6 1277.0,380.8 1277.0,363.5 1280.4,347.9" fill="#d2181e"/></g>
<ellipse cx="1306.8" cy="503.5" rx="17.9" ry="14.5" transform="rotate(0 1306.8 503.5)" fill="#5a0606" opacity="0.55" filter="url(#soft2)"/>
<ellipse cx="1292.3" cy="482.8" rx="11.9" ry="8.5" transform="rotate(0 1292.3 482.8)" fill="#ff2a2a" opacity="0.4" filter="url(#soft2)"/>
<ellipse cx="1286.4" cy="365.2" rx="3.1" ry="20.4" transform="rotate(5 1286.4 365.2)" fill="#7a0a0a" opacity="0.4" filter="url(#soft2)"/>
<rect x="1118" y="318.9" width="273.79999999999995" height="273.1" fill="#000" filter="url(#grain)" opacity="0.4"/>
<circle cx="1283.0" cy="471.5" r="2" fill="#c4d822" filter="url(#dotf)"/>
<circle cx="1286.4" cy="467.2" r="2" fill="#c4d822" filter="url(#dotf)"/>
<circle cx="1288.1" cy="462.9" r="2" fill="#c4d822" filter="url(#dotf)"/>
<circle cx="1289.8" cy="470.7" r="2" fill="#c4d822" filter="url(#dotf)"/>
<circle cx="1285.5" cy="476.7" r="2" fill="#c4d822" filter="url(#dotf)"/>
<circle cx="1298.3" cy="462.9" r="2" fill="#c4d822" filter="url(#dotf)"/>
<circle cx="1300.8" cy="471.5" r="2" fill="#c4d822" filter="url(#dotf)"/>
<circle cx="1310.2" cy="467.2" r="2" fill="#c4d822" filter="url(#dotf)"/>
<circle cx="1314.4" cy="462.4" r="2" fill="#c4d822" filter="url(#dotf)"/>
<circle cx="1307.6" cy="472.4" r="2" fill="#c4d822" filter="url(#dotf)"/>
<circle cx="1310.2" cy="476.7" r="2" fill="#c4d822" filter="url(#dotf)"/>
<circle cx="1283.0" cy="494.9" r="2" fill="#c4d822" filter="url(#dotf)"/>
<circle cx="1284.7" cy="491.4" r="2" fill="#c4d822" filter="url(#dotf)"/>
<circle cx="1284.7" cy="499.2" r="2" fill="#c4d822" filter="url(#dotf)"/>
<circle cx="1136.7" cy="435.6" r="1.6" fill="#2fae3a" filter="url(#dotf)"/>
<circle cx="1152.5" cy="432.3" r="1.6" fill="#2fae3a" filter="url(#dotf)"/>
<circle cx="1246.4" cy="424.0" r="1.6" fill="#2fae3a" filter="url(#dotf)"/>
</g>
<text transform="translate(1125 351)" text-anchor="start" fill="#b9d432" style="font-size:32px;font-style:italic;">btpAbtpB</text>
<rect x="1112.2" y="209.4" width="101.39999999999986" height="100.99999999999997" fill="#f3f2f2" stroke="#000" stroke-width="0"/>
<clipPath id="i1"><rect x="1117" y="213.5" width="92.5" height="92.30000000000001"/></clipPath>
<rect x="1117" y="213.5" width="92.5" height="92.30000000000001" fill="#1c1b20" stroke="#000" stroke-width="0"/>
<g clip-path="url(#i1)">
<g filter="url(#insf)"><polygon points="1115,220 1125,224 1134,228 1151,238 1168,244.5 1185,246 1198,243 1212,237 1212,312 1115,312" fill="#8f8f8f" filter="url(#soft2)"/></g>
</g>
<rect x="1396.8" y="209.4" width="100.70000000000005" height="100.99999999999997" fill="#f3f2f2" stroke="#000" stroke-width="0"/>
<clipPath id="i2"><rect x="1401.1" y="213.5" width="93.20000000000005" height="92.30000000000001"/></clipPath>
<rect x="1401.1" y="213.5" width="93.20000000000005" height="92.30000000000001" fill="#1c1b20" stroke="#000" stroke-width="0"/>
<g clip-path="url(#i2)">
<g filter="url(#insf)"><polygon points="1427.5,219.4 1441.1,224.6 1444.5,245.5 1446.2,271.5 1453.0,290.6 1459.8,297.5 1466.6,271.5 1470.0,245.5 1473.4,228.1 1481.9,221.2 1480.2,245.5 1476.8,271.5 1470.0,297.5 1464.9,314.8 1415.6,314.8 1402.0,307.9 1402.0,290.6 1413.9,295.8 1424.1,297.5 1429.2,280.1 1432.6,262.8 1429.2,236.8" fill="#a8a8a8" filter="url(#soft2)"/></g>
</g>
<rect x="1113.3" y="496" width="100.70000000000005" height="101" fill="#f3f2f2" stroke="#000" stroke-width="0"/>
<clipPath id="i3"><rect x="1118" y="500" width="93.20000000000005" height="92"/></clipPath>
<rect x="1118" y="500" width="93.20000000000005" height="92" fill="#1c1b20" stroke="#000" stroke-width="0"/>
<g clip-path="url(#i3)">
<g filter="url(#insf)"><polygon points="1169.9,505.2 1178.4,508.7 1183.5,520.8 1183.5,543.3 1180.1,560.6 1176.7,581.3 1175.0,598.6 1149.5,598.6 1152.9,574.4 1151.2,557.1 1156.3,543.3 1163.1,526.0 1166.5,512.2" fill="#8a8a8a" filter="url(#soft2)"/></g>
<polyline points="1169.9,505.2 1166.5,512.2 1163.1,526.0 1156.3,543.3 1151.2,557.1 1152.9,574.4 1156.3,584.8" fill="none" stroke="#f4f4f4" stroke-width="3.5" filter="url(#dotf)"/>
<polyline points="1169.9,505.2 1178.4,508.7 1183.5,520.8 1183.5,543.3 1180.1,560.6 1176.7,581.3 1175.0,598.6" fill="none" stroke="#dcdcdc" stroke-width="2.5" filter="url(#dotf)"/>
</g>
</svg>
</body>
</html>
